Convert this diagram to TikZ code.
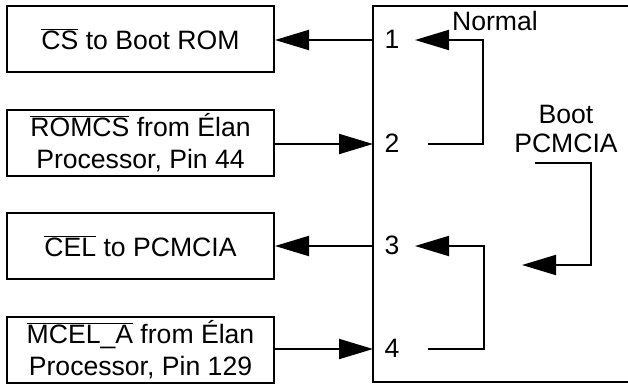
\documentclass[tikz,border=0pt]{standalone}
\usepackage{fontspec}
\setmainfont{Liberation Sans}
\usetikzlibrary{arrows.meta}
\newcommand{\ovl}[1]{$\overline{\hbox{#1}}$}
\begin{document}
\begin{tikzpicture}[x=1pt,y=-1pt,
  every node/.style={font=\fontsize{26.6}{31.5}\selectfont, inner sep=0pt},
  sigbox/.style={draw, line width=2pt, minimum width=267pt, minimum height=66pt, align=center},
  wire/.style={line width=2pt},
  sig/.style={wire, -{Triangle[length=34pt,width=20pt]}},
  pin/.style={anchor=base}]
\useasboundingbox (0,0) rectangle (628,385);

% signal boxes on the left
\node[sigbox] (b1) at (140.5,39) {\ovl{CS} to Boot ROM};
\node[sigbox] (b2) at (140.5,142.5) {\ovl{ROMCS} from Élan\\Processor, Pin 44};
\node[sigbox] (b3) at (140.5,246) {\ovl{CEL} to PCMCIA};
\node[sigbox] (b4) at (140.5,349.5) {\ovl{MCEL\_A} from Élan\\Processor, Pin 129};

% jumper block, open to the right
\draw[wire] (628,6) -- (373,6) -- (373,382) -- (628,382);
\coordinate (e1) at (373,40);
\coordinate (e2) at (373,144);
\coordinate (e3) at (373,246);
\coordinate (e4) at (373,349);

% pin numbers
\node[pin] (n1) at (392,49) {1};
\node[pin] (n2) at (392,152) {2};
\node[pin] (n3) at (392,254) {3};
\node[pin] (n4) at (392,357) {4};

% signals in and out of the block
\draw[sig] (e1) -- (b1.east |- e1);
\draw[sig] (b2.east |- e2) -- (e2);
\draw[sig] (e3) -- (b3.east |- e3);
\draw[sig] (b4.east |- e4) -- (e4);

% jumper loops between pins
\coordinate (s2) at (428,144);
\coordinate (t1) at (415,40);
\draw[sig] (s2) -- (483,144) -- (483,40) -- (t1);
\coordinate (s4) at (428,349);
\coordinate (t3) at (415,246);
\draw[sig] (s4) -- (484,349) -- (484,246) -- (t3);

% jumper setting labels
\node[pin] (normal) at (495,31) {Normal};
\node[pin] (boot) at (566,123) {Boot};
\node[pin] (pcmcia) at (566,152) {PCMCIA};
\coordinate (bs) at (535,163);
\coordinate (bt) at (522,265);
\draw[sig] (bs) -- (591,163) -- (591,265) -- (bt);
\end{tikzpicture}
\end{document}
